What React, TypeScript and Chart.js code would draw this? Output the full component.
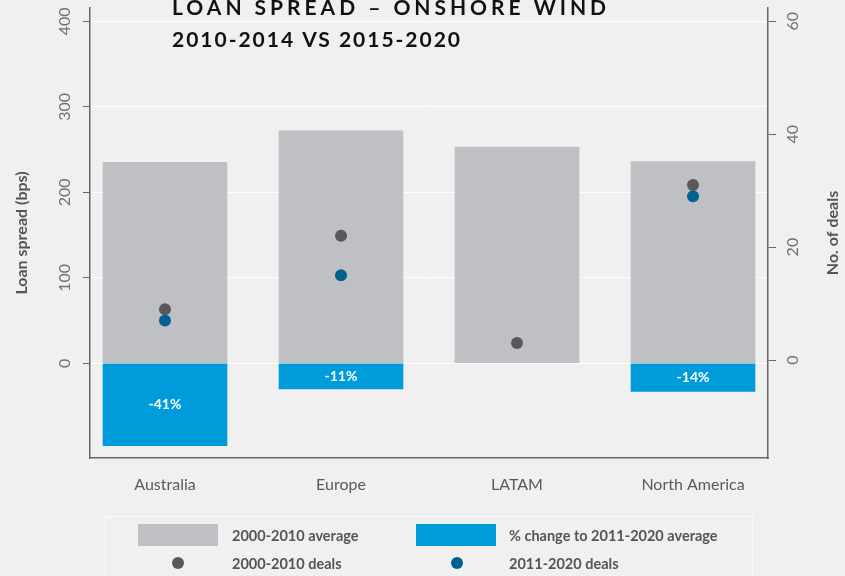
import React, { useEffect, useRef } from 'react';
import { Chart, registerables } from 'chart.js';

Chart.register(...registerables);

const categories = ['Australia', 'Europe', 'LATAM', 'North America'];
const avgSpread20002010 = [235, 272, 253, 236];
const pctChangeTo20112020 = [-41, -11, null, -14];
const deals20002010 = [9, 22, 3, 31];
const deals20112020 = [7, 15, null, 29];
const leftTicks = [0, 100, 200, 300, 400];
const rightTicks = [0, 20, 40, 60];
const titleLines = ['LOAN SPREAD – ONSHORE WIND', '2010-2014 VS 2015-2020'];
const legendLabels = ['2000-2010 average', '% change to 2011-2020 average', '2000-2010 deals', '2011-2020 deals'];
const yTitleLeft = 'Loan spread (bps)';
const yTitleRight = 'No. of deals';

const GRAY_BAR = '#bfc0c4';
const BLUE_BAR = '#009bdb';
const DOT_GRAY = '#58585a';
const DOT_BLUE = '#00608f';
const FONT = 'Lato, "Open Sans", sans-serif';

const overlay = {
  id: 'overlay',
  afterDraw(chart: any) {
    const ctx = chart.ctx as CanvasRenderingContext2D;
    const area = chart.chartArea;
    const yS = chart.scales.y;
    const y2S = chart.scales.y2;
    const xS = chart.scales.x;
    ctx.save();

    // y tick labels (rotated)
    ctx.fillStyle = '#707070';
    ctx.font = `16px ${FONT}`;
    ctx.textAlign = 'center';
    ctx.textBaseline = 'middle';
    leftTicks.forEach((v) => {
      ctx.save();
      ctx.translate(area.left - 25, yS.getPixelForValue(v));
      ctx.rotate(-Math.PI / 2);
      ctx.fillText(String(v), 0, 0);
      ctx.restore();
    });
    rightTicks.forEach((v) => {
      ctx.save();
      ctx.translate(area.right + 25, y2S.getPixelForValue(v));
      ctx.rotate(-Math.PI / 2);
      ctx.fillText(String(v), 0, 0);
      ctx.restore();
    });

    // axis titles
    ctx.fillStyle = '#555';
    ctx.font = `bold 16px ${FONT}`;
    const midY = (area.top + area.bottom) / 2;
    ctx.save();
    ctx.translate(22, midY);
    ctx.rotate(-Math.PI / 2);
    ctx.fillText(yTitleLeft, 0, 0);
    ctx.restore();
    ctx.save();
    ctx.translate(833, midY);
    ctx.rotate(-Math.PI / 2);
    ctx.fillText(yTitleRight, 0, 0);
    ctx.restore();

    // x labels
    ctx.fillStyle = '#5a5a5a';
    ctx.font = `16px ${FONT}`;
    categories.forEach((c, i) => {
      ctx.fillText(c, xS.getPixelForValue(i), area.bottom + 27);
    });

    // blue bar labels
    const meta = chart.getDatasetMeta(1);
    ctx.fillStyle = '#ffffff';
    ctx.font = `bold 14px ${FONT}`;
    meta.data.forEach((el: any, i: number) => {
      const raw = meta._parsed[i];
      const idx = raw ? raw.x : i;
      const p = pctChangeTo20112020[idx];
      if (p == null) return;
      ctx.fillText(`${p}%`, el.x, (el.y + el.base) / 2);
    });

    // title
    ctx.fillStyle = '#111';
    ctx.font = `bold 21px ${FONT}`;
    ctx.textAlign = 'left';
    ctx.textBaseline = 'alphabetic';
    const targets = [434, 288];
    const baselines = [15, 47];
    titleLines.forEach((t, i) => {
      (ctx as any).letterSpacing = '0px';
      const w = ctx.measureText(t).width;
      const ls = (targets[i] - w) / (t.length - 1);
      (ctx as any).letterSpacing = `${ls}px`;
      ctx.fillText(t, 172, baselines[i]);
    });
    (ctx as any).letterSpacing = '0px';

    // legend
    ctx.strokeStyle = '#fbfbfb';
    ctx.lineWidth = 1;
    ctx.strokeRect(105.5, 516.5, 647, 80);
    ctx.fillStyle = GRAY_BAR;
    ctx.fillRect(138, 524, 80, 22);
    ctx.fillStyle = BLUE_BAR;
    ctx.fillRect(416, 524, 80, 22);
    ctx.fillStyle = DOT_GRAY;
    ctx.beginPath();
    ctx.arc(178, 563, 6, 0, Math.PI * 2);
    ctx.fill();
    ctx.fillStyle = DOT_BLUE;
    ctx.beginPath();
    ctx.arc(457, 563, 6, 0, Math.PI * 2);
    ctx.fill();
    ctx.fillStyle = '#555';
    ctx.font = `bold 14.5px ${FONT}`;
    ctx.textBaseline = 'middle';
    ctx.fillText(legendLabels[0], 232, 536);
    ctx.fillText(legendLabels[1], 509, 536);
    ctx.fillText(legendLabels[2], 232, 564);
    ctx.fillText(legendLabels[3], 509, 564);

    ctx.restore();
  },
};

export default function App() {
  const ref = useRef<HTMLCanvasElement>(null);
  useEffect(() => {
    if (!ref.current) return;
    const avgData = categories.map((_, i) => ({ x: i, y: avgSpread20002010[i] }));
    const chgData = categories
      .map((_, i) => ({ x: i, p: pctChangeTo20112020[i] }))
      .filter((d) => d.p != null)
      .map((d) => ({ x: d.x, y: (avgSpread20002010[d.x] * (d.p as number)) / 100 }));
    const d1 = categories.map((_, i) => ({ x: i, y: deals20002010[i] })).filter((d) => d.y != null);
    const d2 = categories.map((_, i) => ({ x: i, y: deals20112020[i] })).filter((d) => d.y != null);
    const chart = new Chart(ref.current, {
      type: 'bar',
      data: {
        datasets: [
          { type: 'bar', label: legendLabels[0], data: avgData as any, backgroundColor: GRAY_BAR, barThickness: 124, grouped: false, yAxisID: 'y', xAxisID: 'x', order: 3 } as any,
          { type: 'bar', label: legendLabels[1], data: chgData as any, backgroundColor: BLUE_BAR, barThickness: 124, grouped: false, yAxisID: 'y', xAxisID: 'x', order: 2 } as any,
          { type: 'scatter', label: legendLabels[2], data: d1 as any, backgroundColor: DOT_GRAY, borderWidth: 0, pointRadius: 6, yAxisID: 'y2', xAxisID: 'x', order: 1 } as any,
          { type: 'scatter', label: legendLabels[3], data: d2 as any, backgroundColor: DOT_BLUE, borderWidth: 0, pointRadius: 6, yAxisID: 'y2', xAxisID: 'x', order: 0 } as any,
        ],
      },
      options: {
        animation: false,
        responsive: true,
        maintainAspectRatio: false,
        events: [],
        layout: { padding: { left: 83, right: 69, top: 8, bottom: 118 } },
        plugins: { legend: { display: false }, tooltip: { enabled: false }, title: { display: false } },
        scales: {
          x: {
            type: 'linear',
            position: 'bottom',
            offset: false,
            min: -0.426,
            max: 3.426,
            afterBuildTicks: (s: any) => { s.ticks = categories.map((_, i) => ({ value: i })); },
            ticks: { display: false },
            grid: { display: true, offset: false, drawOnChartArea: false, drawTicks: false },
            border: { display: true, color: '#666', width: 1.5 },
          },
          y: {
            type: 'linear',
            position: 'left',
            min: -110.8,
            max: 415.6,
            afterBuildTicks: (s: any) => { s.ticks = leftTicks.map((v) => ({ value: v })); },
            ticks: { display: false },
            grid: { color: '#ffffff', lineWidth: 1, tickColor: '#666', tickLength: 7, drawTicks: true },
            border: { display: true, color: '#666', width: 1.5 },
          },
          y2: {
            type: 'linear',
            position: 'right',
            min: -17.36,
            max: 62.36,
            afterBuildTicks: (s: any) => { s.ticks = rightTicks.map((v) => ({ value: v })); },
            ticks: { display: false },
            grid: { drawOnChartArea: false, tickColor: '#666', tickLength: 8, drawTicks: true },
            border: { display: true, color: '#666', width: 1.5 },
          },
        } as any,
      },
      plugins: [overlay],
    });
    return () => chart.destroy();
  }, []);
  return (
    <div style={{ position: 'fixed', left: 0, top: 0, width: 845, height: 576, background: '#f0f0f0' }}>
      <canvas ref={ref} />
    </div>
  );
}
